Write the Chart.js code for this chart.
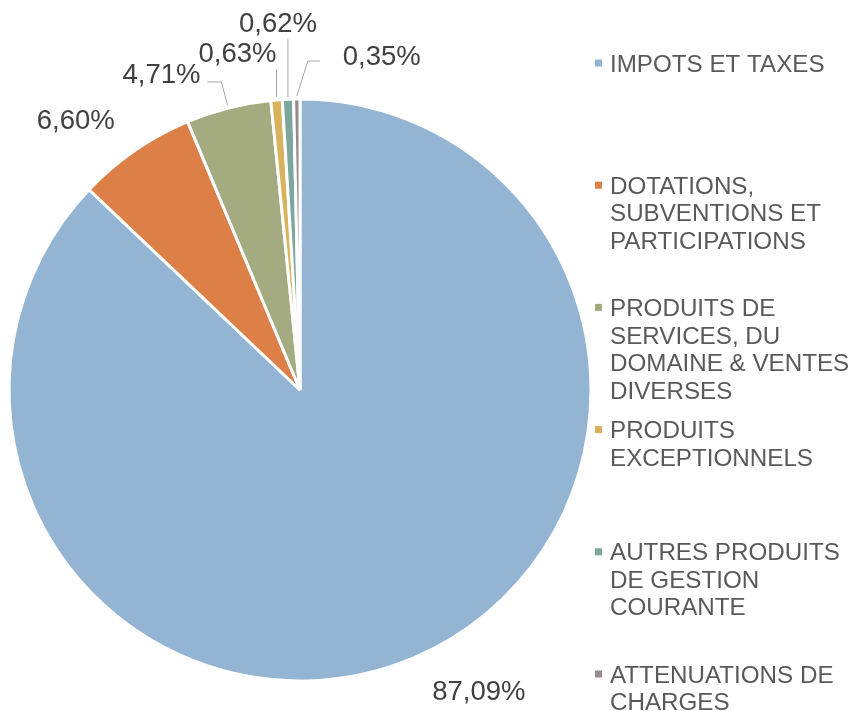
<!DOCTYPE html>
<html>
<head>
<meta charset="utf-8">
<script src="https://cdn.jsdelivr.net/npm/chart.js@4.4.0/dist/chart.umd.min.js"></script>
<style>
html, body { margin: 0; padding: 0; background: #fff; }
#wrap { width: 850px; height: 711px; position: relative; }
</style>
</head>
<body>
<div id="wrap"><canvas id="myChart" width="850" height="711"></canvas></div>
<script>
// donnees du graphique
var categories = [
	"IMPOTS ET TAXES",
	"DOTATIONS, SUBVENTIONS ET PARTICIPATIONS",
	"PRODUITS DE SERVICES, DU DOMAINE & VENTES DIVERSES",
	"PRODUITS EXCEPTIONNELS",
	"AUTRES PRODUITS DE GESTION COURANTE",
	"ATTENUATIONS DE CHARGES"
];
var legendLines = [
	["IMPOTS ET TAXES"],
	["DOTATIONS,", "SUBVENTIONS ET", "PARTICIPATIONS"],
	["PRODUITS DE", "SERVICES, DU", "DOMAINE & VENTES", "DIVERSES"],
	["PRODUITS", "EXCEPTIONNELS"],
	["AUTRES PRODUITS", "DE GESTION", "COURANTE"],
	["ATTENUATIONS DE", "CHARGES"]
];
var values = [87.09, 6.60, 4.71, 0.63, 0.62, 0.35];
var colors = ["#94B4D3", "#DD8047", "#A5AB81", "#D8B25C", "#7BA79D", "#968C8C"];

// decalage des etiquettes par rapport au bord de la part
var labelOffsets = [[64, 35], [-59, -29], [-67, -33], [-39, -46], [-10, -75], [85, -42]];
var leaderLines = [
	null,
	null,
	[[-21, -26], [-7, -26], [-1, -3]],
	[[0, -31], [0, -3]],
	[[0, -60], [0, -2]],
	[[23, -38], [11, -38], [0, -3]]
];

var FONT = '"Liberation Sans", Arial, sans-serif';

function fmt(v) {
	return v.toFixed(2).replace(".", ",") + "%";
}

var pieLabels = {
	id: "pieLabels",
	afterDatasetsDraw: function(chart) {
		var ctx = chart.ctx;
		var meta = chart.getDatasetMeta(0);
		ctx.save();
		meta.data.forEach(function(arc, i) {
			var p = arc.getProps(["x", "y", "startAngle", "endAngle", "outerRadius"], true);
			var mid = (p.startAngle + p.endAngle) / 2;
			var ax = p.x + Math.cos(mid) * p.outerRadius;
			var ay = p.y + Math.sin(mid) * p.outerRadius;
			var lead = leaderLines[i];
			if (lead) {
				ctx.beginPath();
				ctx.strokeStyle = "#A6A6A6";
				ctx.lineWidth = 1;
				lead.forEach(function(pt, k) {
					if (k == 0) ctx.moveTo(ax + pt[0], ay + pt[1]);
					else ctx.lineTo(ax + pt[0], ay + pt[1]);
				});
				ctx.stroke();
			}
			ctx.fillStyle = "#404040";
			ctx.font = "27.5px " + FONT;
			ctx.textAlign = "center";
			ctx.textBaseline = "middle";
			ctx.fillText(fmt(values[i]), ax + labelOffsets[i][0], ay + labelOffsets[i][1]);
		});
		ctx.restore();
	}
};

var sideLegend = {
	id: "sideLegend",
	afterDraw: function(chart) {
		var ctx = chart.ctx;
		var top = 64, bottom = 675;
		var step = (bottom - top) / (legendLines.length - 1);
		var lineH = 27.5;
		ctx.save();
		ctx.font = "24.2px " + FONT;
		ctx.textAlign = "left";
		ctx.textBaseline = "middle";
		legendLines.forEach(function(lines, i) {
			var y = top + i * step;
			ctx.fillStyle = colors[i];
			ctx.fillRect(595, y - 4.5, 7, 7);
			ctx.fillStyle = "#595959";
			lines.forEach(function(t, k) {
				ctx.fillText(t, 610, y + 1 + k * lineH);
			});
		});
		ctx.restore();
	}
};

var myChart = new Chart(document.getElementById("myChart").getContext("2d"), {
	type: "pie",
	data: {
		labels: categories,
		datasets: [{
			data: values,
			backgroundColor: colors,
			borderColor: "#ffffff",
			borderWidth: 3
		}]
	},
	options: {
		responsive: false,
		animation: false,
		radius: 291,
		layout: {
			padding: { left: 10, right: 260, top: 100, bottom: 31 }
		},
		plugins: {
			legend: { display: false },
			tooltip: { enabled: false }
		}
	},
	plugins: [pieLabels, sideLegend]
});
</script>
</body>
</html>
